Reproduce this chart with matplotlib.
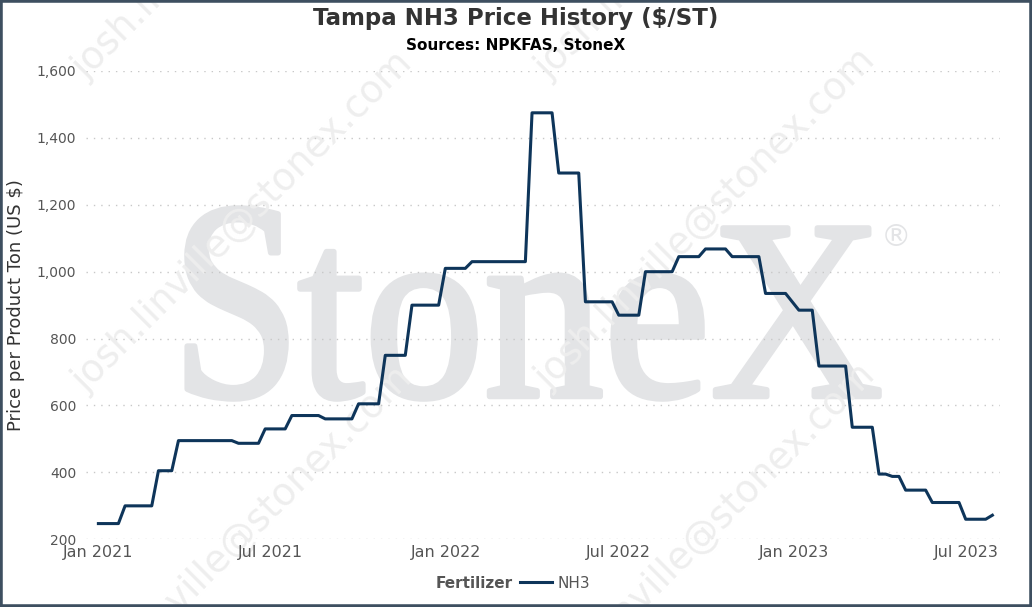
import matplotlib
matplotlib.use("Agg")
import matplotlib.pyplot as plt
import matplotlib.dates as mdates
import pandas as pd
from matplotlib.ticker import StrMethodFormatter
from matplotlib.textpath import TextPath
from matplotlib.patches import PathPatch, Rectangle
from matplotlib.font_manager import FontProperties
from matplotlib.transforms import Affine2D, IdentityTransform

# --- DATA (weekly Tampa NH3 assessment, corner points of the step line) ---
dates = [
    "2021-01-01", "2021-01-22", "2021-01-29", "2021-02-26", "2021-03-05",
    "2021-03-19", "2021-03-26", "2021-05-21", "2021-05-28", "2021-06-18",
    "2021-06-25", "2021-07-16", "2021-07-23", "2021-08-20", "2021-08-27",
    "2021-09-24", "2021-10-01", "2021-10-22", "2021-10-29", "2021-11-19",
    "2021-11-26", "2021-12-24", "2021-12-31", "2022-01-21", "2022-01-28",
    "2022-03-25", "2022-04-01", "2022-04-22", "2022-04-29", "2022-05-20",
    "2022-05-27", "2022-06-24", "2022-07-01", "2022-07-22", "2022-07-29",
    "2022-08-26", "2022-09-02", "2022-09-23", "2022-09-30", "2022-10-21",
    "2022-10-28", "2022-11-25", "2022-12-02", "2022-12-23", "2023-01-06",
    "2023-01-20", "2023-01-27", "2023-02-24", "2023-03-03", "2023-03-24",
    "2023-03-31", "2023-04-07", "2023-04-14", "2023-04-21", "2023-04-28",
    "2023-05-19", "2023-05-26", "2023-06-23", "2023-06-30", "2023-07-21",
    "2023-07-28",
]
nh3_price = [
    247, 247, 300, 300, 405,
    405, 495, 495, 487, 487,
    530, 530, 570, 570, 560,
    560, 605, 605, 750, 750,
    900, 900, 1010, 1010, 1030,
    1030, 1475, 1475, 1295, 1295,
    910, 910, 870, 870, 1000,
    1000, 1045, 1045, 1068, 1068,
    1045, 1045, 935, 935, 885,
    885, 718, 718, 535, 535,
    395, 395, 388, 388, 347,
    347, 310, 310, 260, 260,
    272,
]
y_ticks = [200, 400, 600, 800, 1000, 1200, 1400, 1600]

series_name = "NH3"
legend_title = "Fertilizer"
title = "Tampa NH3 Price History ($/ST)"
subtitle = "Sources: NPKFAS, StoneX"
y_label = "Price per Product Ton (US $)"
watermark_email = "josh.linville@stonex.com"

# --- FIGURE ---
W, H, DPI = 1032, 607, 100
fig = plt.figure(figsize=(W / DPI, H / DPI), dpi=DPI)
fig.patch.set_facecolor("white")


def fpos(x, y):
    # image pixel (top-left origin) -> figure fraction
    return x / W, 1 - y / H


# --- WATERMARK: big StoneX logo text ---
logo_color = "#e3e4e6"
serif = FontProperties(family="Liberation Serif")


def logo_piece(text, x0, x1, y_top, y_bot):
    tp = TextPath((0, 0), text, size=1, prop=serif)
    ext = tp.get_extents()
    tr = (Affine2D().translate(-ext.x0, -ext.y0)
          .scale((x1 - x0) / ext.width, (y_bot - y_top) / ext.height)
          .translate(x0, H - y_bot))
    patch = PathPatch(tr.transform_path(tp), facecolor=logo_color,
                      edgecolor=logo_color, lw=4, joinstyle="round",
                      transform=IdentityTransform(), zorder=-3)
    fig.add_artist(patch)


logo_piece("S", 187, 286, 208, 399)
logo_piece("toneX", 300, 879, 228, 399)
fig.text(*fpos(896, 238), "®", ha="center", va="center", fontsize=22,
         color=logo_color, zorder=-3)

# diagonal e-mail watermark, tiled
for sx, sy in [(86, 80), (86, 393), (86, 708), (549, 80), (549, 390), (549, 705)]:
    fig.text(*fpos(sx, sy), watermark_email, rotation=45, rotation_mode="anchor",
             ha="left", va="baseline", fontsize=27, color="#eeeeee", zorder=-2)

# --- AXES ---
ax = fig.add_axes([86 / W, 1 - 539.3 / H, (1000 - 86) / W, (539.3 - 71) / H])
ax.set_facecolor("none")

ax.plot(pd.to_datetime(dates), nh3_price, color="#0e355a", lw=2.2,
        label=series_name, clip_on=False)

ax.set_xlim(pd.Timestamp("2020-12-19"), pd.Timestamp("2023-08-05"))
ax.set_ylim(200, 1600)
ax.set_yticks(y_ticks)
ax.yaxis.set_major_formatter(StrMethodFormatter("{x:,.0f}"))
ax.xaxis.set_major_locator(mdates.MonthLocator(bymonth=[1, 7]))
ax.xaxis.set_major_formatter(mdates.DateFormatter("%b %Y"))

ax.grid(axis="y", color="#c8c8c8", lw=1, linestyle=(0, (1, 4.3)))
ax.set_axisbelow(True)
for s in ax.spines.values():
    s.set_visible(False)
ax.tick_params(axis="both", length=0)
ax.tick_params(axis="y", labelsize=10, labelcolor="#555555", pad=7)
ax.tick_params(axis="x", labelsize=11.5, labelcolor="#555555", pad=4)

# --- TEXT ---
fig.text(*fpos(516, 18), title, ha="center", va="center", fontsize=16.5,
         fontweight="bold", color="#333333")
fig.text(*fpos(516, 45), subtitle, ha="center", va="center", fontsize=11,
         fontweight="bold", color="black")
fig.text(*fpos(16.5, 305), y_label, rotation=90, ha="center", va="center",
         fontsize=13, color="#333333")

# legend row at the bottom
fig.text(*fpos(513, 583), legend_title, ha="right", va="center", fontsize=11,
         fontweight="bold", color="#555555")
ax.legend(loc="center left", bbox_to_anchor=fpos(520, 583),
          bbox_transform=fig.transFigure, frameon=False, borderpad=0,
          borderaxespad=0, handlelength=2.1, handletextpad=0.35,
          fontsize=11, labelcolor="#555555")

# outer frame
fig.add_artist(Rectangle((0, 0), 1, 1, transform=fig.transFigure, fill=False,
                         edgecolor="#3e4f60", lw=4, zorder=10))

fig.savefig("out.png", dpi=DPI)
plt.close(fig)
